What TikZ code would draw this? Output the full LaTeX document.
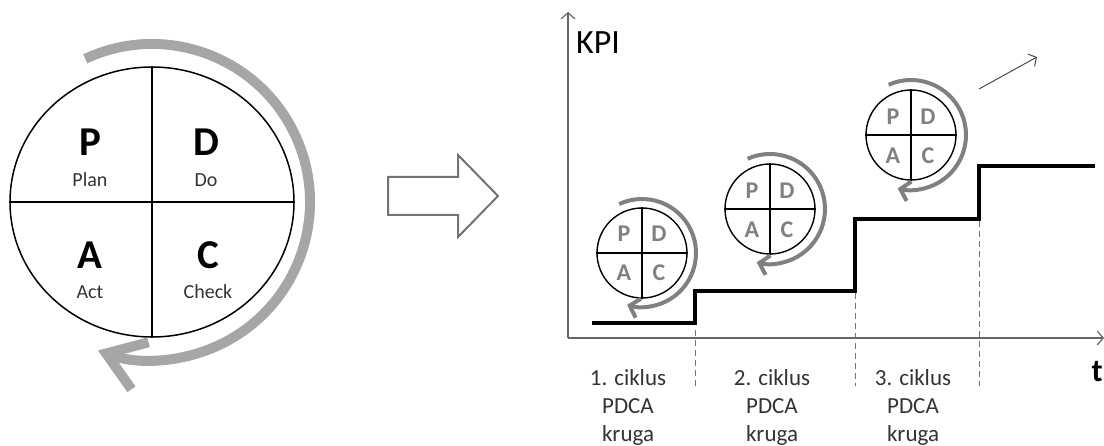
\documentclass[tikz,border=0pt]{standalone}
\usepackage{fontspec}
\setmainfont{Carlito}
\usetikzlibrary{shapes.geometric,arrows.meta}
\tikzstyle{arrow} = [line width=1.2pt,-{Straight Barb[length=6pt,width=14pt]}]

\begin{document}
\begin{tikzpicture}[x=1pt,y=-1pt]

\tikzstyle{bigcyc} = [ellipse, minimum width=284pt, minimum height=270pt, draw=black, line width=1.5pt, inner sep=0pt]
\tikzstyle{cyc} = [circle, minimum size=90pt, draw=black, line width=1.4pt, inner sep=0pt]
\tikzstyle{bigletter} = [inner sep=0pt, font=\fontsize{41}{41}\selectfont\bfseries]
\tikzstyle{word} = [inner sep=0pt, text=black!80, font=\fontsize{20}{20}\selectfont]
\tikzstyle{letter} = [inner sep=0pt, text=black!50, font=\fontsize{24}{24}\selectfont\bfseries]
\tikzstyle{turn} = [line width=4pt, draw=black!50, -{Straight Barb[length=9pt,width=20pt]}]
\tikzstyle{bigturn} = [line width=10pt, draw=black!35, -{Straight Barb[length=36pt,width=50pt]}]
\tikzstyle{sep} = [dash pattern=on 6pt off 4pt, line width=1pt, draw=black!55]
\tikzstyle{lbl} = [align=center, inner sep=0pt, anchor=north, text=black!80, font=\fontsize{23}{28}\selectfont]

\useasboundingbox (0,0) rectangle (1104,446);

% PDCA krug
\node[bigcyc](K)at(152,202){};
\draw[line width=1.5pt](K.north) -- (K.south);
\draw[line width=1.5pt](K.west) -- (K.east);
\node[bigletter](P)at(90,142){P};
\node[bigletter](D)at(206,142){D};
\node[bigletter](A)at(90,255){A};
\node[bigletter](C)at(208,255){C};
\node[word](Pw)at(90,180){Plan};
\node[word](Dw)at(206,180){Do};
\node[word](Aw)at(90,292){Act};
\node[word](Cw)at(208,292){Check};
\draw[bigturn](K.center) ++(-115:158) arc[start angle=-115, end angle=110, radius=158];

% strelica
\draw[line width=2pt, draw=black!55](388,177) -- (458,177) -- (458,155) -- (498,196) -- (458,237) -- (458,215) -- (388,215) -- cycle;

% graf
\coordinate(O)at(568,338);
\coordinate(Y)at(568,12);
\coordinate(X)at(1104,338);
\draw[arrow, draw=black!60](O) -- (Y);
\draw[arrow, draw=black!60](O) -- (X);
\node[anchor=base west, inner sep=0pt, font=\fontsize{34}{34}\selectfont](kpi)at(576,54){KPI};
\node[anchor=east, inner sep=0pt, font=\fontsize{32}{32}\selectfont\bfseries](t)at(1103,372){t};

\draw[line width=4pt, line join=miter](592,323) -- (695,323) -- (695,291) -- (855,291) -- (855,219) -- (979,219) -- (979,166) -- (1095,166);

\draw[sep](695,330) -- (695,388);
\draw[sep](855,293) -- (855,386);
\draw[sep](979,221) -- (979,386);

\node[lbl](L1)at(628,369){1. ciklus\\PDCA\\kruga};
\node[lbl](L2)at(772,369){2. ciklus\\PDCA\\kruga};
\node[lbl](L3)at(913,369){3. ciklus\\PDCA\\kruga};

% mali krugovi
\node[cyc](c1)at(642,253){};
\draw[line width=1.4pt](c1.north) -- (c1.south);
\draw[line width=1.4pt](c1.west) -- (c1.east);
\node[letter]at(624,234){P};
\node[letter]at(659,234){D};
\node[letter]at(624,273){A};
\node[letter]at(659,273){C};
\draw[turn](c1.center) ++(-115:54) arc[start angle=-115, end angle=106, radius=54];

\node[cyc](c2)at(770,209){};
\draw[line width=1.4pt](c2.north) -- (c2.south);
\draw[line width=1.4pt](c2.west) -- (c2.east);
\node[letter]at(752,191){P};
\node[letter]at(787,191){D};
\node[letter]at(752,230){A};
\node[letter]at(787,230){C};
\draw[turn](c2.center) ++(-114:55) arc[start angle=-114, end angle=104, radius=55];

\node[cyc](c3)at(911,135){};
\draw[line width=1.4pt](c3.north) -- (c3.south);
\draw[line width=1.4pt](c3.west) -- (c3.east);
\node[letter]at(893,117){P};
\node[letter]at(928,117){D};
\node[letter]at(893,156){A};
\node[letter]at(928,156){C};
\draw[turn](c3.center) ++(-114:55) arc[start angle=-114, end angle=104, radius=55];

\coordinate(g0)at(979,89);
\coordinate(g1)at(1037,57);
\draw[arrow, line width=1pt, draw=black!70](g0) -- (g1);

\end{tikzpicture}
\end{document}
